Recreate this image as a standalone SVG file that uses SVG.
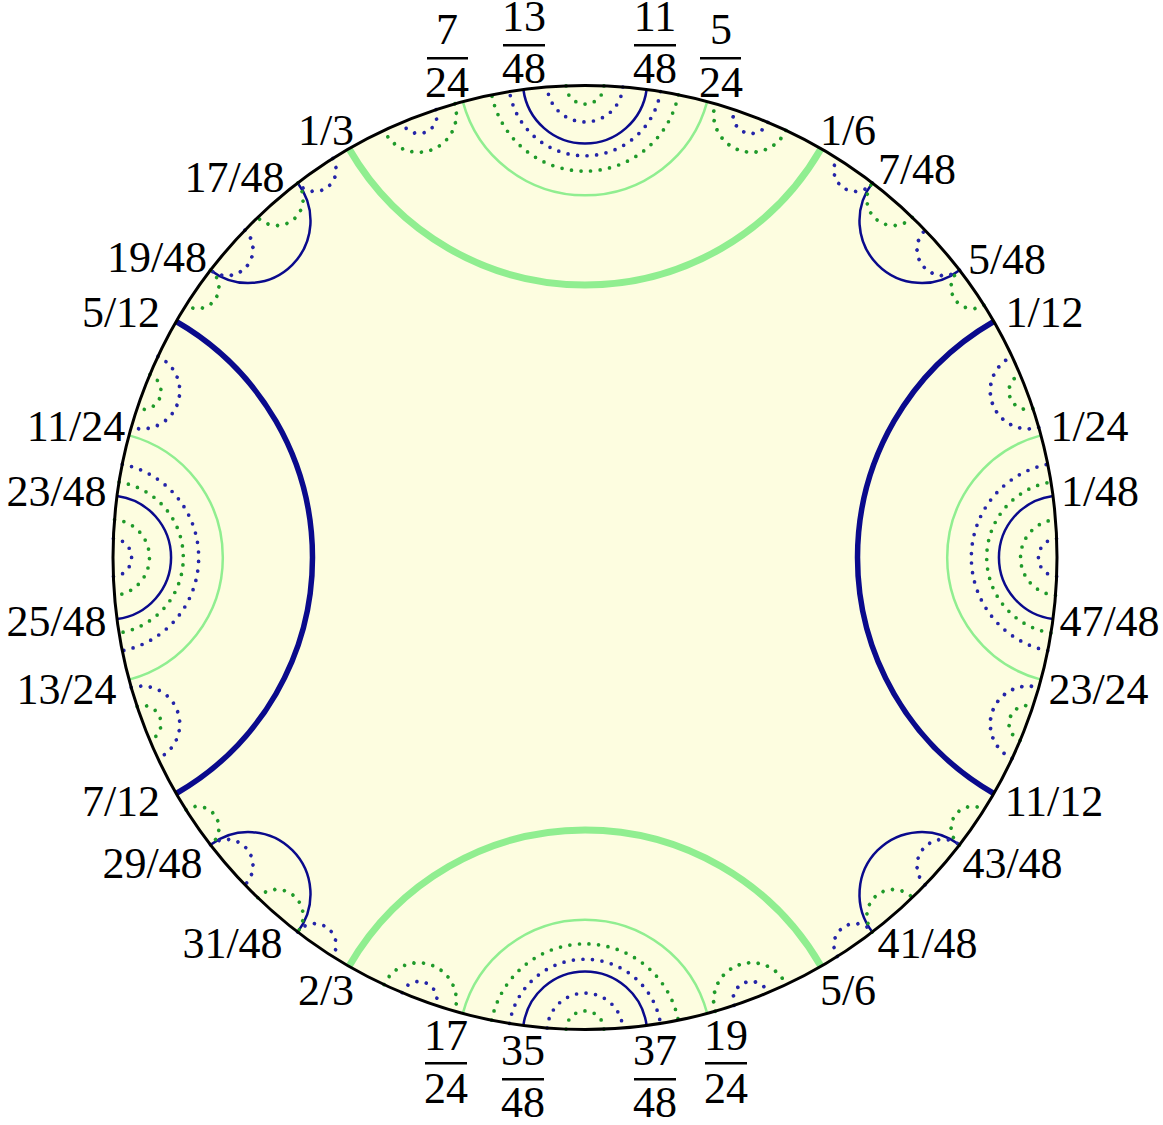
<svg xmlns="http://www.w3.org/2000/svg" xmlns:xlink="http://www.w3.org/1999/xlink" width="1163" height="1125" viewBox="0 0 1163 1125">
<style>
text{font-family:"Liberation Serif","DejaVu Serif",serif;font-size:44px;fill:#000;text-anchor:middle}
.tb{fill:none;stroke:#0a0a8c;stroke-width:5.5}
.tg{fill:none;stroke:#90ee90;stroke-width:7}
.sg{fill:none;stroke:#90ee90;stroke-width:2.5}
.sb{fill:none;stroke:#0a0a8c;stroke-width:2.5}
.db{fill:none;stroke:#2424a8;stroke-width:3.7;stroke-dasharray:0 9.6;stroke-linecap:round}
.dg{fill:none;stroke:#1f9a2a;stroke-width:3.7;stroke-dasharray:0 9.6;stroke-linecap:round}
.bar{fill:#000}
</style>
<defs>
<path id="h30" d="M993.764 793.5A272.509 272.509 0 0 1 993.764 321.5"/>
<path id="h15" d="M1040.917 679.663A126.472 126.472 0 0 1 1040.917 435.337"/>
<path id="h114" d="M1047.688 650.794A95.172 95.172 0 0 1 1047.688 464.206"/>
<path id="h92" d="M1050.928 632.964A76.447 76.447 0 0 1 1050.928 482.036"/>
<path id="h75" d="M1052.962 619.108A62.140 62.140 0 0 1 1052.962 495.892"/>
<path id="h46" d="M1055.480 595.354A37.976 37.976 0 0 1 1055.480 519.646"/>
<path id="h32" d="M1056.264 583.848A26.389 26.389 0 0 1 1056.264 531.152"/>
<path id="h26" d="M1056.514 578.911A21.434 21.434 0 0 1 1056.514 536.089"/>
<path id="h23" d="M1056.620 576.442A18.957 18.957 0 0 1 1056.620 538.558"/>
<path id="h22" d="M1056.652 575.619A18.132 18.132 0 0 1 1056.652 539.381"/>
</defs>
<g id="disk">
<circle cx="585" cy="557.5" r="472" fill="#fdfde0"/>
</g>
<g id="connectors">
<g id="thick">
<use xlink:href="#h30" class="tb"/>
<use xlink:href="#h30" class="tb" transform="rotate(-180 585 557.5)"/>
<use xlink:href="#h30" class="tg" transform="rotate(-90 585 557.5)"/>
<use xlink:href="#h30" class="tg" transform="rotate(-270 585 557.5)"/>
</g>
<g id="thin">
<use xlink:href="#h15" class="sg"/>
<use xlink:href="#h15" class="sg" transform="rotate(-90 585 557.5)"/>
<use xlink:href="#h15" class="sg" transform="rotate(-180 585 557.5)"/>
<use xlink:href="#h15" class="sg" transform="rotate(-270 585 557.5)"/>
<use xlink:href="#h75" class="sb"/>
<use xlink:href="#h75" class="sb" transform="rotate(-90 585 557.5)"/>
<use xlink:href="#h75" class="sb" transform="rotate(-180 585 557.5)"/>
<use xlink:href="#h75" class="sb" transform="rotate(-270 585 557.5)"/>
<use xlink:href="#h75" class="sb" transform="rotate(-45 585 557.5)"/>
<use xlink:href="#h75" class="sb" transform="rotate(-135 585 557.5)"/>
<use xlink:href="#h75" class="sb" transform="rotate(-225 585 557.5)"/>
<use xlink:href="#h75" class="sb" transform="rotate(-315 585 557.5)"/>
</g>
<g id="dotted-clusters">
<use xlink:href="#h114" class="dg" transform="rotate(-90 585 557.5)"/>
<use xlink:href="#h92" class="db" transform="rotate(-90 585 557.5)"/>
<use xlink:href="#h46" class="db" transform="rotate(-90 585 557.5)"/>
<use xlink:href="#h23" class="dg" transform="rotate(-90 585 557.5)"/>
<use xlink:href="#h114" class="dg" transform="rotate(-270 585 557.5)"/>
<use xlink:href="#h92" class="db" transform="rotate(-270 585 557.5)"/>
<use xlink:href="#h46" class="db" transform="rotate(-270 585 557.5)"/>
<use xlink:href="#h23" class="dg" transform="rotate(-270 585 557.5)"/>
<use xlink:href="#h114" class="db"/>
<use xlink:href="#h92" class="dg"/>
<use xlink:href="#h46" class="dg"/>
<use xlink:href="#h23" class="db"/>
<use xlink:href="#h114" class="db" transform="rotate(-180 585 557.5)"/>
<use xlink:href="#h92" class="dg" transform="rotate(-180 585 557.5)"/>
<use xlink:href="#h46" class="dg" transform="rotate(-180 585 557.5)"/>
<use xlink:href="#h23" class="db" transform="rotate(-180 585 557.5)"/>
</g>
<g id="dotted-pairs">
<use xlink:href="#h46" class="dg" transform="rotate(-69.4 585 557.5)"/>
<use xlink:href="#h22" class="db" transform="rotate(-69.4 585 557.5)"/>
<use xlink:href="#h46" class="dg" transform="rotate(-110.6 585 557.5)"/>
<use xlink:href="#h22" class="db" transform="rotate(-110.6 585 557.5)"/>
<use xlink:href="#h46" class="dg" transform="rotate(-249.4 585 557.5)"/>
<use xlink:href="#h22" class="db" transform="rotate(-249.4 585 557.5)"/>
<use xlink:href="#h46" class="dg" transform="rotate(-290.6 585 557.5)"/>
<use xlink:href="#h22" class="db" transform="rotate(-290.6 585 557.5)"/>
<use xlink:href="#h46" class="db" transform="rotate(-20.6 585 557.5)"/>
<use xlink:href="#h22" class="dg" transform="rotate(-20.6 585 557.5)"/>
<use xlink:href="#h46" class="db" transform="rotate(-159.4 585 557.5)"/>
<use xlink:href="#h22" class="dg" transform="rotate(-159.4 585 557.5)"/>
<use xlink:href="#h46" class="db" transform="rotate(-200.6 585 557.5)"/>
<use xlink:href="#h22" class="dg" transform="rotate(-200.6 585 557.5)"/>
<use xlink:href="#h46" class="db" transform="rotate(-339.4 585 557.5)"/>
<use xlink:href="#h22" class="dg" transform="rotate(-339.4 585 557.5)"/>
</g>
<g id="dotted-diagonal">
<use xlink:href="#h26" class="db" transform="rotate(-55.1 585 557.5)"/>
<use xlink:href="#h32" class="dg" transform="rotate(-49.3 585 557.5)"/>
<use xlink:href="#h32" class="db" transform="rotate(-40.7 585 557.5)"/>
<use xlink:href="#h26" class="dg" transform="rotate(-34.9 585 557.5)"/>
<use xlink:href="#h26" class="db" transform="rotate(-124.9 585 557.5)"/>
<use xlink:href="#h32" class="dg" transform="rotate(-130.7 585 557.5)"/>
<use xlink:href="#h32" class="db" transform="rotate(-139.3 585 557.5)"/>
<use xlink:href="#h26" class="dg" transform="rotate(-145.1 585 557.5)"/>
<use xlink:href="#h26" class="db" transform="rotate(-235.1 585 557.5)"/>
<use xlink:href="#h32" class="dg" transform="rotate(-229.3 585 557.5)"/>
<use xlink:href="#h32" class="db" transform="rotate(-220.7 585 557.5)"/>
<use xlink:href="#h26" class="dg" transform="rotate(-214.9 585 557.5)"/>
<use xlink:href="#h26" class="db" transform="rotate(-304.9 585 557.5)"/>
<use xlink:href="#h32" class="dg" transform="rotate(-310.7 585 557.5)"/>
<use xlink:href="#h32" class="db" transform="rotate(-319.3 585 557.5)"/>
<use xlink:href="#h26" class="dg" transform="rotate(-325.1 585 557.5)"/>
</g>
</g>
<g id="rim">
<circle cx="585" cy="557.5" r="472" fill="none" stroke="#000" stroke-width="3"/>
</g>
<g id="labels">
<text x="326" y="145">1/3</text>
<text x="848" y="145">1/6</text>
<text x="234.5" y="192">17/48</text>
<text x="917" y="184">7/48</text>
<text x="157" y="272">19/48</text>
<text x="1007" y="274">5/48</text>
<text x="121" y="327">5/12</text>
<text x="1044.5" y="327">1/12</text>
<text x="76" y="441">11/24</text>
<text x="1089.5" y="441">1/24</text>
<text x="56.5" y="506">23/48</text>
<text x="1100" y="506">1/48</text>
<text x="56.5" y="636">25/48</text>
<text x="1109.5" y="636">47/48</text>
<text x="66.5" y="704">13/24</text>
<text x="1098.5" y="704">23/24</text>
<text x="121" y="816">7/12</text>
<text x="1054" y="816">11/12</text>
<text x="152.5" y="878">29/48</text>
<text x="1012.5" y="878">43/48</text>
<text x="232.5" y="958">31/48</text>
<text x="927.5" y="958">41/48</text>
<text x="326" y="1005">2/3</text>
<text x="848" y="1005">5/6</text>
</g>
<g id="stacked-labels">
<g id="f7-24"><text x="447" y="44">7</text><rect class="bar" x="427" y="57" width="41" height="2.5"/><text x="447" y="97">24</text></g>
<g id="f13-48"><text x="524" y="31">13</text><rect class="bar" x="503" y="44" width="42" height="2.5"/><text x="524" y="83">48</text></g>
<g id="f11-48"><text x="655" y="31">11</text><rect class="bar" x="634" y="44" width="42" height="2.5"/><text x="655" y="83">48</text></g>
<g id="f5-24"><text x="721" y="44">5</text><rect class="bar" x="700" y="57" width="41" height="2.5"/><text x="721" y="97">24</text></g>
<g id="f17-24"><text x="446" y="1050">17</text><rect class="bar" x="425" y="1062" width="42" height="2.5"/><text x="446" y="1103">24</text></g>
<g id="f35-48"><text x="523" y="1065">35</text><rect class="bar" x="502" y="1078" width="42" height="2.5"/><text x="523" y="1117">48</text></g>
<g id="f37-48"><text x="655" y="1065">37</text><rect class="bar" x="634" y="1078" width="42" height="2.5"/><text x="655" y="1117">48</text></g>
<g id="f19-24"><text x="726" y="1050">19</text><rect class="bar" x="705" y="1062" width="42" height="2.5"/><text x="726" y="1103">24</text></g>
</g>
</svg>
